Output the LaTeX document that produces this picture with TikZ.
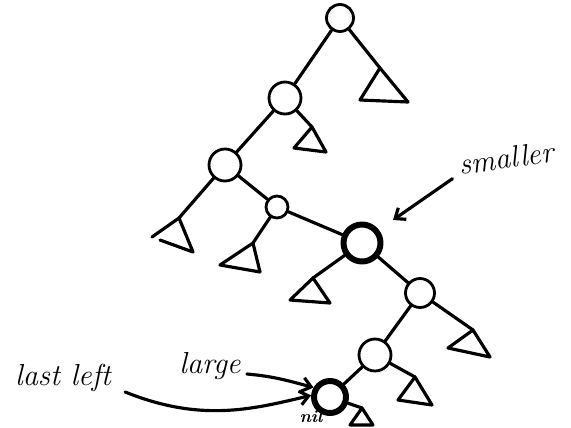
\documentclass[tikz,border=0pt]{standalone}
\usetikzlibrary{arrows.meta}
\begin{document}
\begin{tikzpicture}[x=0.02cm,y=-0.02cm,
  line cap=round, line join=round,
  pen/.style={line width=1.8pt},
  vert/.style={circle, draw, line width=1.6pt, inner sep=0pt},
  boldvert/.style={circle, draw, line width=3.4pt, inner sep=0pt},
  subtree/.style={line width=1.8pt},
  hand/.style={font=\itshape\LARGE, inner sep=0pt},
  arr/.style={pen, -{Straight Barb[length=5pt,width=8pt]}}]
\useasboundingbox (0,0) rectangle (571,427);
% vertices
\node[vert, minimum size=0.54cm] (r) at (340,18) {};
\node[vert, minimum size=0.64cm] (n1) at (285,98) {};
\node[vert, minimum size=0.64cm] (n2) at (225,165) {};
\node[vert, minimum size=0.44cm] (n3) at (277,207) {};
\node[boldvert, minimum size=0.74cm] (n4) at (362,243) {};
\node[vert, minimum size=0.58cm] (n5) at (420,293) {};
\node[vert, minimum size=0.64cm] (n6) at (375,355) {};
\node[boldvert, minimum size=0.64cm] (n7) at (330,397) {};
% subtree apexes
\coordinate (t0) at (380,68);
\coordinate (t1) at (312,127);
\coordinate (t2) at (179,218);
\coordinate (t3) at (253,243);
\coordinate (t4) at (313,278);
\coordinate (t5) at (473,330);
\coordinate (t6) at (415,377);
\coordinate (t7) at (362,408);
% subtrees (triangles)
\draw[subtree] (t0) -- (360,100) -- (408,102) -- cycle;
\draw[subtree] (t1) -- (294,148) -- (326,152) -- cycle;
\draw[subtree] (t2) -- (152,237) (160,240) -- (193,252) -- (t2);
\draw[subtree] (t3) -- (220,265) -- (260,272) -- cycle;
\draw[subtree] (t4) -- (290,300) -- (330,303) -- cycle;
\draw[subtree] (t5) -- (448,348) -- (490,357) -- cycle;
\draw[subtree] (t6) -- (398,400) -- (432,405) -- cycle;
\draw[subtree] (t7) -- (350,425) -- (373,425) -- cycle;
% edges
\draw[pen] (r) -- (n1);
\draw[pen] (r) -- (t0);
\draw[pen] (n1) -- (n2);
\draw[pen] (n1) -- (t1);
\draw[pen] (n2) -- (t2);
\draw[pen] (n2) -- (n3);
\draw[pen] (n3) -- (t3);
\draw[pen] (n3) -- (n4);
\draw[pen] (n4) -- (t4);
\draw[pen] (n4) -- (n5);
\draw[pen] (n5) -- (t5);
\draw[pen] (n5) -- (n6);
\draw[pen] (n6) -- (t6);
\draw[pen] (n6) -- (n7);
\draw[pen] (n7) -- (t7);
% labels
\node[hand, rotate=8] (smaller) at (506,158) {smaller};
\draw[arr] (smaller.west) ++(-6,14) coordinate (sm0) -- (393,220);
\node[hand] (lastleft) at (63,378) {last left};
\node[hand] (large) at (210,366) {large};
\node[font=\itshape\bfseries, inner sep=0pt] (nil) at (311,416) {nil};
\draw[arr] (large.east) ++(6,8) coordinate (lg0) to[out=-5,in=165] (n7.150);
\draw[arr] (lastleft.east) ++(14,14) coordinate (ll0) .. controls (200,422) and (250,410) .. (n7.175);
\end{tikzpicture}
\end{document}
